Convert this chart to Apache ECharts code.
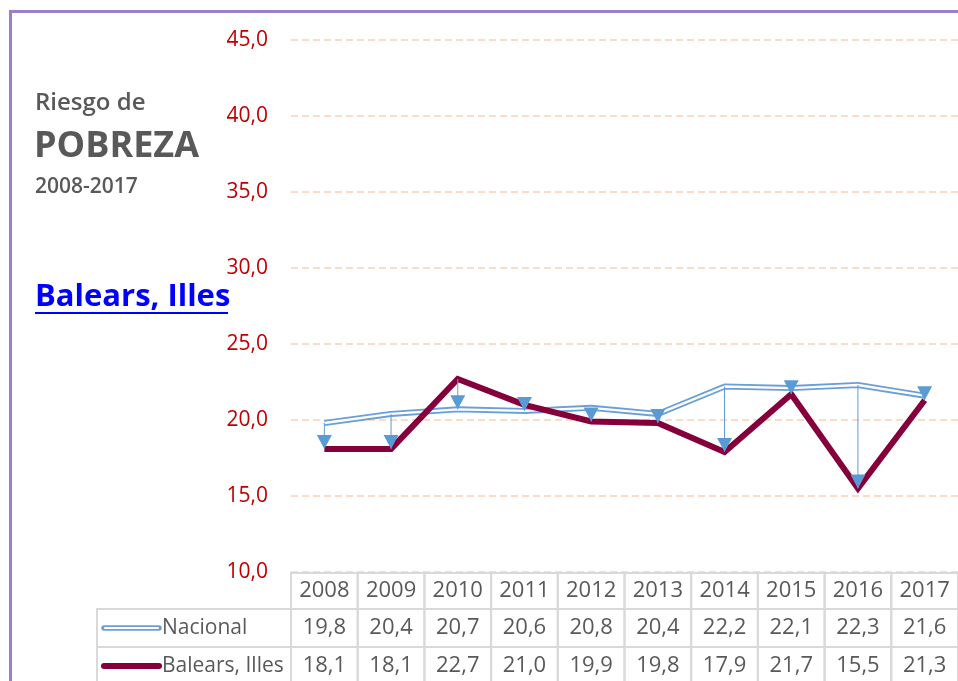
<!DOCTYPE html>
<html>
<head>
<meta charset="utf-8">
<script src="https://cdn.jsdelivr.net/npm/echarts@6/dist/echarts.min.js"></script>
<style>
  html, body { margin: 0; padding: 0; background: #fff; }
  #chart { width: 958px; height: 681px; }
</style>
</head>
<body>
<div id="chart"></div>
<script>
var years = ['2008', '2009', '2010', '2011', '2012', '2013', '2014', '2015', '2016', '2017'];
var nacional = [19.8, 20.4, 20.7, 20.6, 20.8, 20.4, 22.2, 22.1, 22.3, 21.6];
var balears = [18.1, 18.1, 22.7, 21.0, 19.9, 19.8, 17.9, 21.7, 15.5, 21.3];
var seriesNames = ['Nacional', 'Balears, Illes'];

var FONT = '"Open Sans", sans-serif';
var GREY = '#595959';
var BLUE = '#5B9BD5';
var NAC = '#6A9FD8';
var MAROON = '#85003A';
var BORDER = '#D9D9D9';

function fmt(v) { return v.toFixed(1).replace('.', ','); }

// drop lines between the two series, triangle at the lower end
var drops = years.map(function (y, i) { return [i, nacional[i], balears[i]]; });

var myChart = echarts.init(document.getElementById('chart'));
var option = {
  backgroundColor: '#fff',
  animation: false,
  grid: { left: 291, right: -6, top: 40, bottom: 109 },
  xAxis: {
    type: 'category',
    data: years,
    boundaryGap: true,
    axisLine: { show: false },
    axisTick: { show: false },
    axisLabel: { show: false }
  },
  yAxis: {
    type: 'value',
    min: 10,
    max: 45,
    interval: 5,
    axisLine: { show: false },
    axisTick: { show: false },
    axisLabel: {
      color: '#C00000',
      fontFamily: FONT,
      fontSize: 21,
      margin: 23,
      formatter: function (v) { return fmt(v); }
    },
    splitLine: {
      lineStyle: { color: '#FBDCC8', width: 2, type: [7, 4] }
    }
  },
  series: [
    {
      name: seriesNames[0],
      type: 'line',
      data: nacional,
      symbol: 'none',
      z: 2,
      lineStyle: { color: NAC, width: 6 }
    },
    {
      name: seriesNames[0] + ' inner',
      type: 'line',
      data: nacional,
      symbol: 'none',
      z: 3,
      silent: true,
      lineStyle: { color: '#fff', width: 2.4 }
    },
    {
      name: seriesNames[1],
      type: 'line',
      data: balears,
      symbol: 'none',
      z: 4,
      lineStyle: { color: MAROON, width: 6, join: 'miter' }
    },
    {
      type: 'custom',
      z: 5,
      data: drops,
      renderItem: function (params, api) {
        var a = api.value(1), b = api.value(2);
        var top = api.coord([api.value(0), Math.max(a, b)]);
        var bot = api.coord([api.value(0), Math.min(a, b)]);
        return {
          type: 'group',
          children: [
            { type: 'line', shape: { x1: top[0], y1: top[1], x2: bot[0], y2: bot[1] }, style: { stroke: BLUE, lineWidth: 1 } },
            { type: 'polygon', shape: { points: [[bot[0] - 7.5, bot[1] - 14], [bot[0] + 7.5, bot[1] - 14], [bot[0], bot[1]]] }, style: { fill: BLUE } }
          ]
        };
      }
    }
  ]
};
myChart.setOption(option);

// table below the plot, built from the axis positions
var cx0 = myChart.convertToPixel({ xAxisIndex: 0 }, 0);
var cx1 = myChart.convertToPixel({ xAxisIndex: 0 }, 1);
var colW = cx1 - cx0;
var tTop = myChart.convertToPixel({ yAxisIndex: 0 }, 10) + 1;
var rowH = [36, 38, 38];
var rowY = [tTop, tTop + rowH[0], tTop + rowH[0] + rowH[1]];
var labelLeft = 97;
var g = [];

function cell(x, y, w, h) {
  g.push({ type: 'rect', shape: { x: x, y: y, width: w, height: h }, style: { fill: 'none', stroke: BORDER, lineWidth: 2 }, z: 10 });
}
function txt(x, y, s, align, size) {
  g.push({ type: 'text', x: x, y: y, style: { text: s, font: (size || 22) + 'px ' + FONT, fill: GREY, textAlign: align || 'center', textVerticalAlign: 'middle' }, z: 11 });
}

var rows = [nacional, balears];
years.forEach(function (yr, i) {
  var c = myChart.convertToPixel({ xAxisIndex: 0 }, i);
  cell(c - colW / 2, rowY[0], colW, rowH[0]);
  txt(c, rowY[0] + rowH[0] / 2, yr);
  rows.forEach(function (arr, r) {
    cell(c - colW / 2, rowY[r + 1], colW, rowH[r + 1]);
    txt(c, rowY[r + 1] + rowH[r + 1] / 2, fmt(arr[i]));
  });
});
rows.forEach(function (arr, r) {
  var yy = rowY[r + 1];
  var mid = yy + rowH[r + 1] / 2;
  cell(labelLeft, yy, cx0 - colW / 2 - labelLeft, rowH[r + 1]);
  if (r === 0) {
    g.push({ type: 'line', shape: { x1: 104, y1: mid, x2: 159, y2: mid }, style: { stroke: NAC, lineWidth: 5.5, lineCap: 'round' }, z: 11 });
    g.push({ type: 'line', shape: { x1: 105, y1: mid, x2: 158, y2: mid }, style: { stroke: '#fff', lineWidth: 2, lineCap: 'round' }, z: 12 });
  } else {
    g.push({ type: 'line', shape: { x1: 104, y1: mid, x2: 159, y2: mid }, style: { stroke: MAROON, lineWidth: 6, lineCap: 'round' }, z: 11 });
  }
  txt(162, mid, seriesNames[r], 'left', 21);
});

// titles and frame
g.push({ type: 'text', x: 35, y: 103, style: { text: 'Riesgo de', font: '600 24px ' + FONT, fill: GREY, textVerticalAlign: 'middle' } });
g.push({ type: 'text', x: 34, y: 147, style: { text: 'POBREZA', font: 'bold 36px ' + FONT, fill: GREY, textVerticalAlign: 'middle' } });
g.push({ type: 'text', x: 35, y: 187, style: { text: '2008-2017', font: '600 21px ' + FONT, fill: GREY, textVerticalAlign: 'middle' } });
g.push({ type: 'text', x: 35, y: 297, style: { text: 'Balears, Illes', font: 'bold 31px ' + FONT, fill: '#0000FF', textVerticalAlign: 'middle' } });
g.push({ type: 'line', shape: { x1: 35, y1: 313, x2: 228, y2: 313 }, style: { stroke: '#0000FF', lineWidth: 2 } });
g.push({ type: 'rect', shape: { x: 10.5, y: 11.5, width: 1000, height: 1000 }, style: { fill: 'none', stroke: '#9A80C6', lineWidth: 3 }, z: 20 });

myChart.setOption({ graphic: g });

window.addEventListener('resize', function () { myChart.resize(); });
</script>
</body>
</html>
